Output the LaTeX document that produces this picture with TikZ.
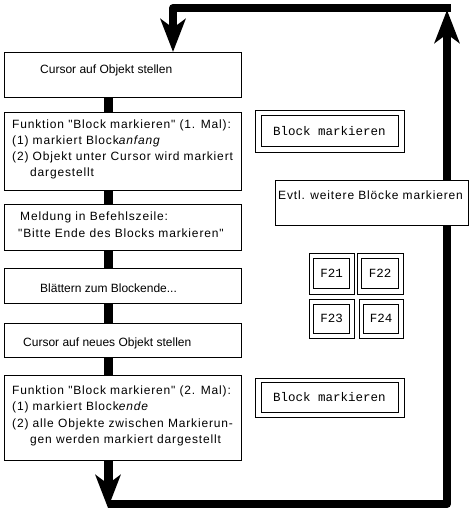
\documentclass[tikz,border=0pt]{standalone}
\usepackage{fontspec}
\setmainfont{Liberation Sans}
\newfontfamily\widefam[LetterSpace=7]{Liberation Sans}
\newfontfamily\monofam{Liberation Mono}
\usetikzlibrary{arrows.meta,calc}
\begin{document}
\begin{tikzpicture}[x=1pt,y=-1pt,
  box/.style={draw, line width=0.9pt, fill=white, inner sep=0pt, anchor=north west},
  txt/.style={anchor=north west, inner sep=0pt, align=left, font=\fontsize{12}{16}\selectfont},
  wtxt/.style={txt, font=\widefam\fontsize{12}{16}\selectfont},
  conn/.style={line width=9pt},
  loopline/.style={line width=8pt, line join=round},
  head/.style={-{Stealth[length=33pt,width=25pt,inset=9pt]}},
  dblo/.style={draw, line width=0.9pt, inner sep=0pt, fill=white},
  dbli/.style={draw, line width=0.9pt, inner sep=0pt,
    font=\monofam\fontsize{12.5}{14}\selectfont}]
\useasboundingbox (0,0) rectangle (473,513);

% left boxes
\node[box, minimum width=237pt, minimum height=45pt] (b1) at (4,52) {};
\node[box, minimum width=237pt, minimum height=78pt] (b2) at (4,112) {};
\node[box, minimum width=237pt, minimum height=46pt] (b3) at (4,204) {};
\node[box, minimum width=237pt, minimum height=35pt] (b4) at (4,268) {};
\node[box, minimum width=237pt, minimum height=34pt] (b5) at (4,323) {};
\node[box, minimum width=237pt, minimum height=85pt] (b6) at (4,375) {};

\node[txt] (t1) at (40,65) {Cursor auf Objekt stellen};
\node[wtxt] (t2) at (12,120) {Funktion "Block markieren" (1. Mal):\\
(1) markiert Block\textit{anfang}\\
(2) Objekt unter Cursor wird markiert\\
\hspace*{18pt}dargestellt};
\node[wtxt, font=\widefam\fontsize{12}{16.5}\selectfont] (t3) at (18,212) {\hspace*{2pt}Meldung in Befehlszeile:\\
"Bitte Ende des Blocks markieren"};
\node[txt] (t4) at (40,283.5) {Blättern zum Blockende...};
\node[txt] (t5) at (23,337.5) {Cursor auf neues Objekt stellen};
\node[wtxt, font=\widefam\fontsize{12}{16.5}\selectfont] (t6) at (12,385.5) {Funktion "Block markieren" (2. Mal):\\
(1) markiert Block\textit{ende}\\
(2) alle Objekte zwischen Markierun-\\
\hspace*{18pt}gen werden markiert dargestellt};

% connectors
\coordinate (spine) at (108,0);
\draw[conn] (spine |- b1.south) -- (spine |- b2.north);
\draw[conn] (spine |- b2.south) -- (spine |- b3.north);
\draw[conn] (spine |- b3.south) -- (spine |- b4.north);
\draw[conn] (spine |- b4.south) -- (spine |- b5.north);
\draw[conn] (spine |- b5.south) -- (spine |- b6.north);

% loop
\coordinate (endtip) at (108,508);
\coordinate (bot) at (108,504);
\coordinate (br) at (447,504);
\coordinate (uptip) at (447,10);
\coordinate (tr) at (451,8);
\coordinate (tl) at (173,8);
\draw[conn, head] (spine |- b6.south) -- (endtip);
\draw[loopline, head] (bot) -- (br) -- (uptip);
\draw[loopline, head] (tr) -- (tl) -- (tl |- b1.north);

% right side
\node[box, minimum width=193pt, minimum height=45pt] (ev) at (275,180) {};
\node[wtxt] (tev) at (278,190.5) {Evtl. weitere Blöcke markieren};

\node[dblo, minimum width=149pt, minimum height=42pt] (bm1o) at (329.5,131) {};
\node[dbli, minimum width=137pt, minimum height=31pt] (bm1) at (bm1o.center) {Block markieren};
\node[dblo, minimum width=149pt, minimum height=39pt] (bm2o) at (329.5,397.5) {};
\node[dbli, minimum width=137pt, minimum height=30pt] (bm2) at (bm2o.center) {Block markieren};

\node[dblo, minimum width=45pt, minimum height=41pt] (f21o) at (331.5,273.5) {};
\node[dbli, minimum width=36pt, minimum height=30pt] (f21) at (f21o.center) {F21};
\node[dblo, minimum width=46pt, minimum height=41pt] (f22o) at (380,273.5) {};
\node[dbli, minimum width=37pt, minimum height=30pt] (f22) at (f22o.center) {F22};
\node[dblo, minimum width=45pt, minimum height=39pt] (f23o) at (331.5,318.5) {};
\node[dbli, minimum width=36pt, minimum height=29pt] (f23) at (f23o.center) {F23};
\node[dblo, minimum width=44pt, minimum height=39pt] (f24o) at (381,318.5) {};
\node[dbli, minimum width=35pt, minimum height=29pt] (f24) at (f24o.center) {F24};
\end{tikzpicture}
\end{document}
